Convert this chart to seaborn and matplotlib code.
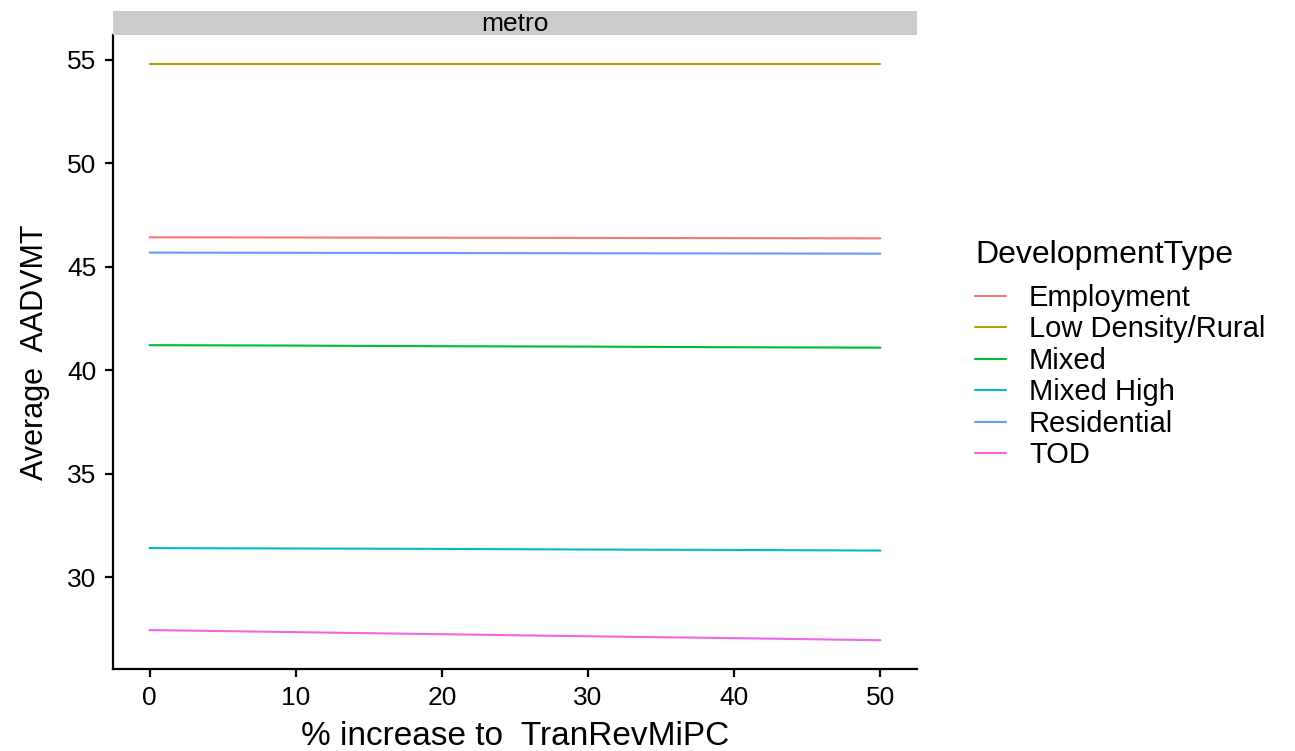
import pandas as pd
import matplotlib
matplotlib.use("Agg")
import matplotlib.pyplot as plt
import seaborn as sns

# values (x = % increase to TranRevMiPC)
pct_increase = [0, 10, 20, 30, 40, 50]
employment = [46.43, 46.42, 46.41, 46.40, 46.39, 46.38]
low_density_rural = [54.81, 54.81, 54.81, 54.81, 54.81, 54.81]
mixed = [41.22, 41.20, 41.17, 41.15, 41.12, 41.10]
mixed_high = [31.42, 31.40, 31.38, 31.35, 31.33, 31.30]
residential = [45.69, 45.68, 45.67, 45.66, 45.65, 45.64]
tod = [27.46, 27.36, 27.26, 27.16, 27.07, 26.97]

dev_types = ["Employment", "Low Density/Rural", "Mixed", "Mixed High", "Residential", "TOD"]
series = [employment, low_density_rural, mixed, mixed_high, residential, tod]
colors = ["#F8766D", "#B79F00", "#00BA38", "#00BFC4", "#619CFF", "#F564E3"]

rows = []
for name, vals in zip(dev_types, series):
    for x, v in zip(pct_increase, vals):
        rows.append({"pct": x, "AADVMT": v, "DevelopmentType": name})
df = pd.DataFrame(rows)

sns.set_theme(style="ticks")
plt.rcParams["font.family"] = ["Liberation Sans", "DejaVu Sans"]

W, H = 1295, 751
fig = plt.figure(figsize=(W / 100, H / 100), dpi=100)
ax = fig.add_axes([113 / W, 1 - 669 / H, (917 - 113) / W, (669 - 35) / H])

sns.lineplot(data=df, x="pct", y="AADVMT", hue="DevelopmentType",
             hue_order=dev_types, palette=colors, linewidth=1.5, ax=ax)

ax.set_xlim(-2.5, 52.5)
ax.set_ylim(25.58, 56.2)
ax.set_xticks([0, 10, 20, 30, 40, 50])
ax.set_yticks([30, 35, 40, 45, 50, 55])
ax.tick_params(axis="both", length=6, width=1.6, color="black",
               labelsize=19, labelcolor="black", pad=6)
for side in ["left", "bottom"]:
    ax.spines[side].set_linewidth(1.6)
    ax.spines[side].set_color("black")
sns.despine(ax=ax)

ax.set_xlabel("% increase to  TranRevMiPC", fontsize=24, color="black", labelpad=8)
ax.set_ylabel("Average  AADVMT", fontsize=22, color="black", labelpad=12)

# facet strip
strip = fig.add_axes([113 / W, 1 - 35 / H, (917 - 113) / W, 24 / H])
strip.set_facecolor("#CCCCCC")
strip.set_xticks([])
strip.set_yticks([])
for s in strip.spines.values():
    s.set_visible(False)
strip.text(0.5, 0.45, "metro", ha="center", va="center", fontsize=19, color="black")

handles, labels = ax.get_legend_handles_labels()
ax.legend_.remove()
leg = fig.legend(handles, labels, title="DevelopmentType", loc="upper left",
                 bbox_to_anchor=(975 / W, 1 - 240 / H), frameon=False,
                 fontsize=21, title_fontsize=23, handlelength=1.05,
                 handletextpad=0.8, labelspacing=0.12, borderpad=0, borderaxespad=0)
leg._legend_box.align = "left"
leg._legend_box.sep = 10  # gap between title and entries, in points
leg.get_title().set_color("black")
for t in leg.get_texts():
    t.set_color("black")

fig.savefig("out.png", dpi=100)
